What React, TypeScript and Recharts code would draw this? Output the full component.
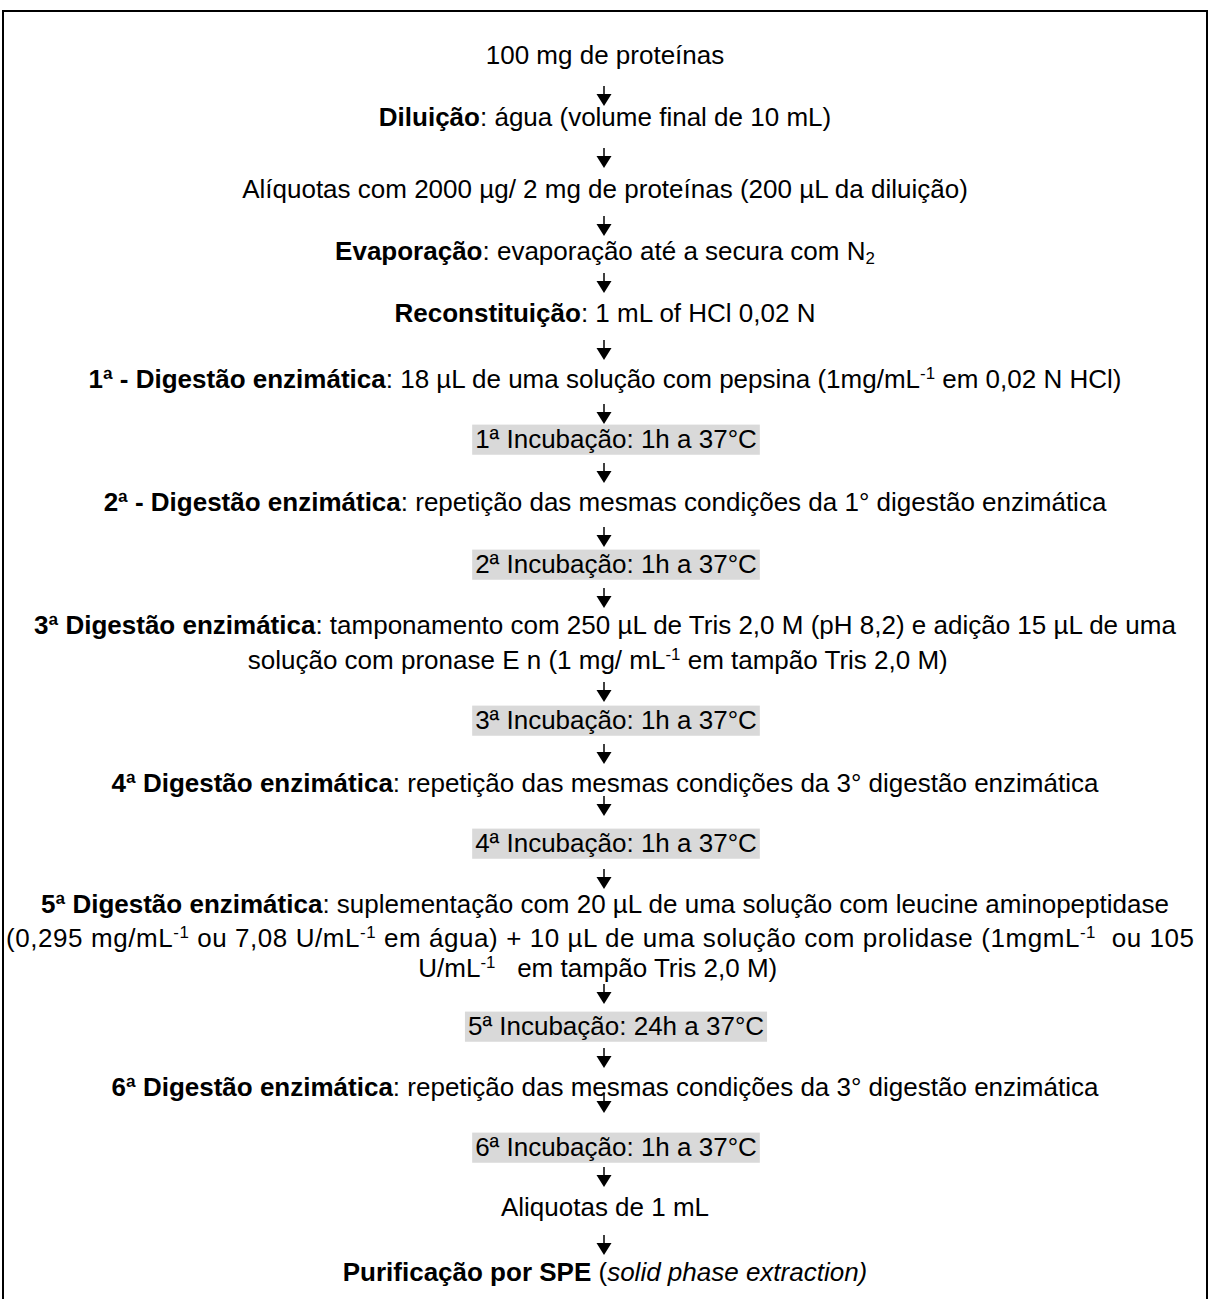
import React from "react";
import { ScatterChart, Scatter, XAxis, YAxis } from "recharts";

const W = 1210;
const H = 1299;
const FONT = '"Liberation Sans", Arial, sans-serif';
const FS = 26;
const CENTER = 605;
const BAND_CENTER = 616;
const TEXT_AREA = 1188;

// flow text, one entry per printed line (markup: **bold**, *italic*, ^sup^, ~sub~)
const stepLines = [
  "100 mg de proteínas",
  "**Diluição**: água (volume final de 10 mL)",
  "Alíquotas com 2000 µg/ 2 mg de proteínas (200 µL da diluição)",
  "**Evaporação**: evaporação até a secura com N~2~",
  "**Reconstituição**: 1 mL of HCl 0,02 N",
  "**1ª - Digestão enzimática**: 18 µL de uma solução com pepsina (1mg/mL^-1^ em 0,02 N HCl)",
  "1ª Incubação: 1h a 37°C",
  "**2ª - Digestão enzimática**: repetição das mesmas condições da 1° digestão enzimática",
  "2ª Incubação: 1h a 37°C",
  "**3ª Digestão enzimática**: tamponamento com 250 µL de Tris 2,0 M (pH 8,2) e adição 15 µL de uma",
  "solução com pronase E n (1 mg/ mL^-1^ em tampão Tris 2,0 M)  ",
  "3ª Incubação: 1h a 37°C",
  "**4ª Digestão enzimática**: repetição das mesmas condições da 3° digestão enzimática",
  "4ª Incubação: 1h a 37°C",
  "**5ª Digestão enzimática**: suplementação com 20 µL de uma solução com leucine aminopeptidase",
  "(0,295 mg/mL^-1^ ou 7,08 U/mL^-1^ em água) + 10 µL de uma solução com prolidase (1mgmL^-1^  ou 105",
  "U/mL^-1^   em tampão Tris 2,0 M)  ",
  "5ª Incubação: 24h a 37°C",
  "**6ª Digestão enzimática**: repetição das mesmas condições da 3° digestão enzimática",
  "6ª Incubação: 1h a 37°C",
  "Aliquotas de 1 mL",
  "**Purificação por SPE** (*solid phase extraction)*",
];

// baseline of each line, diagram units from the top
const lineY = [
  64, 126, 198, 260, 322, 388, 448, 511, 573, 634, 669, 729, 792, 852,
  913, 947, 977, 1035, 1096, 1156, 1216, 1281,
];

// lines printed on a grey band (incubations)
const shadedLines = [6, 8, 11, 13, 17, 19];

// lines that run the full width of the text area
const fullLines = [15];

// centre of each down arrow, diagram units from the top
const arrowY = [
  96, 158, 226, 283, 350, 414, 473, 537, 598, 692, 754, 806, 879, 994,
  1058, 1103, 1177, 1245,
];

type Seg = { t: string; b: boolean; i: boolean; sup: boolean; sub: boolean };

function parse(s: string): Seg[] {
  const out: Seg[] = [];
  let b = false, i = false, sup = false, sub = false, buf = "";
  const push = () => {
    if (buf) out.push({ t: buf, b, i, sup, sub });
    buf = "";
  };
  for (let k = 0; k < s.length; k++) {
    const c = s[k];
    if (c === "*" && s[k + 1] === "*") { push(); b = !b; k++; continue; }
    if (c === "*") { push(); i = !i; continue; }
    if (c === "^") { push(); sup = !sup; continue; }
    if (c === "~") { push(); sub = !sub; continue; }
    buf += c;
  }
  push();
  return out;
}

let ctx: CanvasRenderingContext2D | null = null;
function measure(s: string) {
  if (!ctx) ctx = document.createElement("canvas").getContext("2d");
  if (!ctx) return s.length * FS * 0.5;
  ctx.font = `${FS}px ${FONT}`;
  return ctx.measureText(s).width;
}

const textData = stepLines.map((text, k) => {
  const shaded = shadedLines.includes(k);
  return {
    x: shaded ? BAND_CENTER : CENTER,
    y: lineY[k],
    text,
    shaded,
    full: fullLines.includes(k),
  };
});

const arrowData = arrowY.map((y) => ({ x: CENTER - 1, y }));

function TextLine(props: any) {
  const { cx, cy, payload } = props;
  const segs = parse(payload.text);
  let shift = 0;
  const spans = segs.map((g, k) => {
    const target = g.sup ? -FS * 0.34 : g.sub ? FS * 0.16 : 0;
    const dy = target - shift;
    shift = target;
    return (
      <tspan
        key={k}
        dy={dy}
        fontWeight={g.b ? "bold" : "normal"}
        fontStyle={g.i ? "italic" : "normal"}
        fontSize={g.sup || g.sub ? FS * 0.65 : FS}
      >
        {g.t}
      </tspan>
    );
  });
  let band = null;
  if (payload.shaded) {
    const w = measure(payload.text);
    band = (
      <rect
        x={cx - w / 2 - 3}
        y={cy - FS * 0.9}
        width={w + 6}
        height={FS * 1.16}
        fill="#d9d9d9"
      />
    );
  }
  const fit = payload.full
    ? { textLength: TEXT_AREA, lengthAdjust: "spacing" as const }
    : {};
  return (
    <g>
      {band}
      <text
        x={payload.full ? cx - 5 : cx}
        y={cy}
        textAnchor="middle"
        fontFamily={FONT}
        fontSize={FS}
        fill="#000"
        style={{ whiteSpace: "pre" }}
        {...fit}
      >
        {spans}
      </text>
    </g>
  );
}

function Arrow(props: any) {
  const { cx, cy } = props;
  return (
    <g>
      <line x1={cx} y1={cy - 10} x2={cx} y2={cy - 1} stroke="#000" strokeWidth={1.5} />
      <path
        d={`M${cx - 7.5},${cy - 2} L${cx + 7.5},${cy - 2} L${cx},${cy + 10} Z`}
        fill="#000"
      />
    </g>
  );
}

export default function App() {
  return (
    <div style={{ position: "absolute", left: 0, top: 0, width: W, height: H, background: "#fff" }}>
      <div
        style={{
          position: "absolute",
          left: 2,
          top: 10,
          width: 1206,
          height: H,
          boxSizing: "border-box",
          borderTop: "2px solid #000",
          borderLeft: "2px solid #000",
          borderRight: "2px solid #000",
        }}
      />
      <div style={{ position: "absolute", left: 0, top: 0 }}>
        <ScatterChart width={W} height={H} margin={{ top: 0, right: 0, bottom: 0, left: 0 }}>
          <XAxis type="number" dataKey="x" domain={[0, W]} allowDataOverflow hide />
          <YAxis type="number" dataKey="y" domain={[0, H]} allowDataOverflow reversed hide />
          <Scatter data={textData} shape={TextLine} isAnimationActive={false} />
          <Scatter data={arrowData} shape={Arrow} isAnimationActive={false} />
        </ScatterChart>
      </div>
    </div>
  );
}
